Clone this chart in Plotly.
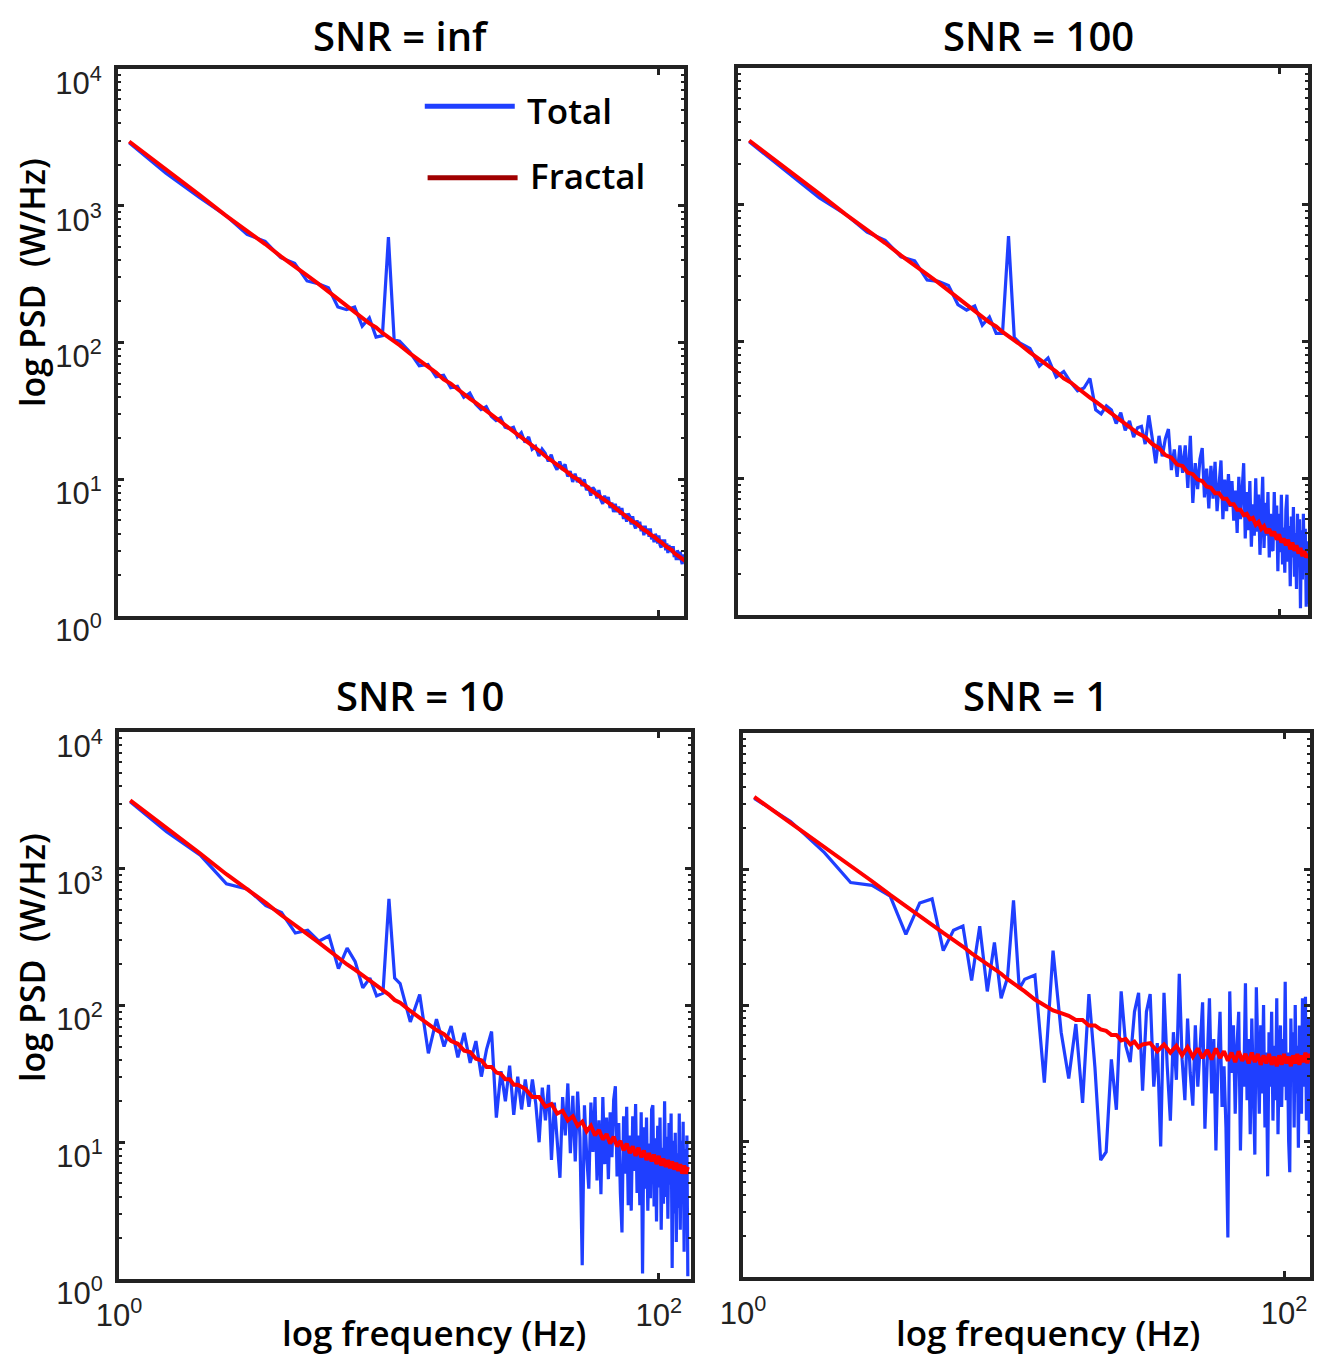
import plotly.graph_objects as go

# frequency grid (Hz) of the measured spectra
FREQ = [1.1, 1.5, 2, 2.5, 3, 3.5, 4, 4.5, 5, 5.5, 6, 6.5, 7, 7.5, 8, 8.5, 9, 9.5, 10, 10.5,
        11, 12, 13, 14, 15, 16, 17, 18, 19, 20, 21, 22, 23, 24, 25, 26, 27, 28, 29, 30,
        31, 32, 33, 34, 35, 36, 37, 38, 39, 40, 41, 42, 43, 44, 45, 46, 47, 48, 49, 50,
        51, 52, 53, 54, 55, 56, 57, 58, 59, 60, 61, 62, 63, 64, 65, 66, 67, 68, 69, 70,
        71, 72, 73, 74, 75, 76, 77, 78, 79, 80, 81, 82, 83, 84, 85, 86, 87, 88, 89, 90,
        91, 92, 93, 94, 95, 96, 97, 98, 99, 100, 101, 102, 103, 104, 105, 106, 107, 108, 109, 110,
        111, 112, 113, 114, 115, 116, 117, 118, 119, 120, 121, 122, 123, 124, 125, 126, 127, 128]

# frequency grid (Hz) of the fitted fractal component
FREQ_FIT = [1.1, 1.5, 2, 2.5, 3, 3.5, 4, 4.5, 5, 5.5, 6, 6.5, 7, 7.5, 8, 8.5, 9, 9.5, 10, 10.5,
            11, 12, 13, 14, 15, 16, 17, 18, 19, 20, 21, 22, 23, 24, 25, 26, 27, 28, 29, 30,
            32, 34, 36, 38, 40, 42, 44, 46, 48, 50, 52, 54, 56, 58, 60, 62, 64, 66, 68, 70,
            72, 74, 76, 78, 80, 82, 84, 86, 88, 90, 92, 94, 96, 98, 100, 102, 104, 106, 108, 110,
            112, 114, 116, 118, 120, 122, 124, 126, 128]

# log10 PSD values
TOTAL_INF = [3.46, 3.24, 3.06, 2.93, 2.79, 2.74, 2.62, 2.58, 2.45, 2.43, 2.40, 2.26, 2.24, 2.26, 2.12, 2.18, 2.04, 2.05, 2.77, 2.02,
             2.01, 1.93, 1.83, 1.84, 1.75, 1.76, 1.67, 1.68, 1.60, 1.63, 1.55, 1.51, 1.53, 1.46, 1.43, 1.45, 1.38, 1.37, 1.38, 1.31,
             1.34, 1.27, 1.31, 1.22, 1.24, 1.17, 1.22, 1.19, 1.13, 1.18, 1.11, 1.07, 1.13, 1.07, 1.11, 1.02, 1.06, 0.98, 1.04, 0.98,
             1.01, 0.95, 1.00, 0.92, 0.95, 0.88, 0.94, 0.92, 0.86, 0.92, 0.85, 0.82, 0.88, 0.83, 0.87, 0.79, 0.83, 0.76, 0.82, 0.76,
             0.80, 0.74, 0.79, 0.71, 0.75, 0.69, 0.75, 0.73, 0.67, 0.73, 0.67, 0.64, 0.70, 0.65, 0.69, 0.62, 0.66, 0.59, 0.66, 0.60,
             0.64, 0.58, 0.64, 0.56, 0.59, 0.54, 0.60, 0.58, 0.53, 0.59, 0.52, 0.50, 0.56, 0.51, 0.56, 0.48, 0.53, 0.46, 0.52, 0.47,
             0.51, 0.46, 0.51, 0.43, 0.47, 0.41, 0.48, 0.46, 0.41, 0.47, 0.41, 0.38, 0.45, 0.40, 0.45, 0.37, 0.42, 0.35]
FRACTAL_INF = [3.47, 3.27, 3.08, 2.93, 2.82, 2.72, 2.63, 2.56, 2.49, 2.43, 2.37, 2.32, 2.27, 2.22, 2.18, 2.14, 2.11, 2.07, 2.04, 2.01,
               1.98, 1.92, 1.87, 1.82, 1.78, 1.73, 1.70, 1.66, 1.62, 1.59, 1.56, 1.53, 1.50, 1.47, 1.45, 1.42, 1.40, 1.37, 1.35, 1.33,
               1.29, 1.25, 1.21, 1.17, 1.14, 1.11, 1.08, 1.05, 1.02, 1.00, 0.97, 0.95, 0.92, 0.90, 0.88, 0.86, 0.84, 0.82, 0.80, 0.78,
               0.76, 0.74, 0.73, 0.71, 0.69, 0.68, 0.66, 0.65, 0.63, 0.62, 0.60, 0.59, 0.58, 0.56, 0.55, 0.54, 0.52, 0.51, 0.50, 0.49,
               0.48, 0.46, 0.45, 0.44, 0.43, 0.42, 0.41, 0.40, 0.39]

TOTAL_100 = [3.46, 3.25, 3.05, 2.93, 2.80, 2.74, 2.62, 2.59, 2.45, 2.44, 2.41, 2.27, 2.23, 2.26, 2.12, 2.18, 2.06, 2.06, 2.77, 2.03,
             1.99, 1.95, 1.82, 1.88, 1.74, 1.78, 1.70, 1.64, 1.66, 1.73, 1.50, 1.47, 1.53, 1.50, 1.40, 1.48, 1.35, 1.42, 1.30, 1.37,
             1.38, 1.25, 1.46, 1.29, 1.11, 1.31, 1.16, 1.29, 1.36, 1.06, 1.21, 1.01, 1.24, 1.04, 1.24, 0.93, 1.31, 0.82, 1.11, 0.92,
             1.14, 1.22, 0.86, 1.07, 0.78, 1.09, 0.85, 1.12, 0.76, 0.95, 1.13, 0.70, 0.99, 0.76, 1.03, 0.79, 0.98, 0.69, 0.91, 0.60,
             1.01, 0.70, 0.89, 1.11, 0.56, 0.90, 0.62, 0.98, 0.50, 0.81, 0.58, 1.00, 0.61, 0.88, 0.44, 0.81, 1.01, 0.49, 0.82, 0.58,
             0.90, 0.42, 0.74, 0.48, 0.47, 0.90, 0.56, 0.80, 0.32, 0.74, 0.46, 0.88, 0.37, 0.64, 0.31, 0.77, 0.88, 0.39, 0.65, 0.21,
             0.72, 0.42, 0.79, 0.28, 0.60, 0.19, 0.74, 0.40, 0.70, 0.05, 0.62, 0.26, 0.74, 0.33, 0.63, 0.06, 0.54, 0.08]
FRACTAL_100 = [3.47, 3.27, 3.08, 2.93, 2.82, 2.72, 2.63, 2.56, 2.49, 2.43, 2.37, 2.32, 2.27, 2.22, 2.18, 2.14, 2.11, 2.07, 2.04, 2.01,
               1.98, 1.92, 1.87, 1.82, 1.78, 1.73, 1.70, 1.66, 1.62, 1.59, 1.56, 1.53, 1.50, 1.47, 1.45, 1.42, 1.40, 1.37, 1.35, 1.33,
               1.30, 1.25, 1.22, 1.17, 1.15, 1.10, 1.09, 1.04, 1.03, 0.99, 0.98, 0.94, 0.93, 0.89, 0.89, 0.85, 0.85, 0.81, 0.81, 0.77,
               0.77, 0.73, 0.74, 0.70, 0.71, 0.66, 0.68, 0.63, 0.65, 0.60, 0.63, 0.58, 0.61, 0.55, 0.59, 0.53, 0.56, 0.51, 0.55, 0.48,
               0.53, 0.47, 0.51, 0.45, 0.49, 0.43, 0.47, 0.42, 0.45]

TOTAL_10 = [3.49, 3.27, 3.10, 2.89, 2.85, 2.73, 2.68, 2.53, 2.55, 2.47, 2.51, 2.27, 2.42, 2.32, 2.13, 2.20, 2.07, 2.09, 2.78, 2.20,
            2.16, 1.88, 2.08, 1.65, 1.90, 1.70, 1.85, 1.62, 1.80, 1.58, 1.74, 1.48, 1.68, 1.81, 1.18, 1.52, 1.30, 1.56, 1.20, 1.48,
            1.24, 1.46, 1.26, 1.46, 1.28, 1.00, 1.40, 1.16, 1.42, 0.87, 1.29, 1.03, 0.74, 1.33, 1.05, 1.43, 0.92, 1.34, 0.86, 1.37,
            1.04, 0.10, 1.27, 0.91, 0.66, 1.29, 0.93, 1.33, 0.72, 1.16, 0.62, 1.33, 0.84, 1.18, 0.73, 1.22, 0.89, 1.31, 1.41, 0.75,
            1.14, 0.63, 0.34, 1.19, 0.77, 1.26, 0.54, 1.05, 0.50, 1.19, 0.79, 1.28, 0.63, 1.05, 0.54, 1.22, 0.04, 1.11, 0.66, 1.18,
            0.50, 0.99, 0.59, 1.24, 1.27, 0.53, 1.03, 0.42, 1.12, 0.67, 1.18, 0.36, 0.96, 0.55, 1.30, 0.60, 1.04, 0.44, 1.14, 0.69,
            1.21, 0.08, 1.01, 0.48, 1.07, 0.27, 0.92, 0.52, 1.21, 0.36, 1.01, 0.56, 1.15, 0.20, 0.95, 0.45, 1.05, 0.02]
FRACTAL_10 = [3.50, 3.30, 3.11, 2.96, 2.85, 2.75, 2.66, 2.59, 2.52, 2.46, 2.40, 2.35, 2.30, 2.26, 2.22, 2.18, 2.14, 2.11, 2.08, 2.04,
              2.02, 1.96, 1.91, 1.86, 1.82, 1.79, 1.74, 1.72, 1.67, 1.66, 1.61, 1.60, 1.55, 1.55, 1.51, 1.50, 1.46, 1.46, 1.42, 1.42,
              1.39, 1.33, 1.33, 1.26, 1.28, 1.21, 1.23, 1.16, 1.19, 1.12, 1.15, 1.08, 1.12, 1.05, 1.09, 1.02, 1.06, 0.99, 1.04, 0.97,
              1.01, 0.94, 0.99, 0.92, 0.97, 0.90, 0.96, 0.89, 0.94, 0.87, 0.92, 0.86, 0.91, 0.84, 0.90, 0.83, 0.88, 0.82, 0.87, 0.81,
              0.86, 0.80, 0.85, 0.79, 0.84, 0.77, 0.83, 0.77, 0.82]

TOTAL_1 = [3.52, 3.35, 3.12, 2.90, 2.88, 2.80, 2.52, 2.75, 2.78, 2.40, 2.55, 2.58, 2.18, 2.58, 2.10, 2.46, 2.05, 2.20, 2.77, 2.12,
           2.19, 2.22, 1.43, 2.40, 1.80, 1.46, 1.86, 1.28, 2.08, 1.54, 0.86, 0.92, 1.60, 1.23, 2.10, 1.70, 1.58, 1.95, 2.09, 1.37,
           1.95, 2.08, 1.40, 1.72, 0.96, 2.09, 1.55, 1.15, 1.80, 1.45, 2.23, 1.60, 1.30, 1.90, 1.50, 1.26, 1.85, 1.40, 1.70, 2.02,
           1.09, 1.65, 2.05, 1.35, 1.75, 0.93, 1.60, 1.95, 1.25, 1.55, 1.10, 0.29, 2.10, 1.50, 1.85, 1.20, 1.70, 1.95, 0.93, 1.60,
           1.40, 2.16, 1.30, 1.75, 1.05, 1.90, 1.45, 0.90, 2.13, 1.50, 1.20, 1.85, 1.35, 2.00, 1.10, 1.65, 0.74, 1.80, 1.40, 1.95,
           1.15, 1.70, 1.30, 2.05, 1.05, 1.60, 1.85, 1.25, 1.75, 1.40, 2.17, 1.30, 1.65, 1.00, 0.77, 1.90, 1.45, 1.80, 1.10, 2.00,
           1.35, 1.70, 0.95, 1.85, 1.50, 1.20, 2.05, 1.40, 1.75, 2.06, 1.15, 1.60, 1.90, 1.05, 1.70, 1.30, 2.10, 1.50]
FRACTAL_1 = [3.53, 3.34, 3.16, 3.02, 2.91, 2.81, 2.73, 2.66, 2.59, 2.53, 2.48, 2.43, 2.38, 2.34, 2.30, 2.26, 2.23, 2.19, 2.16, 2.13,
             2.10, 2.04, 2.00, 1.96, 1.94, 1.92, 1.89, 1.89, 1.85, 1.85, 1.82, 1.81, 1.78, 1.78, 1.74, 1.75, 1.71, 1.73, 1.69, 1.71,
             1.72, 1.66, 1.71, 1.65, 1.70, 1.63, 1.69, 1.62, 1.68, 1.61, 1.67, 1.60, 1.68, 1.61, 1.66, 1.59, 1.65, 1.58, 1.66, 1.59,
             1.64, 1.57, 1.65, 1.58, 1.64, 1.56, 1.63, 1.57, 1.64, 1.56, 1.62, 1.55, 1.63, 1.56, 1.64, 1.57, 1.62, 1.55, 1.63, 1.57,
             1.64, 1.56, 1.63, 1.58, 1.65, 1.57, 1.64, 1.59, 1.63]

TITLES = ['SNR = inf', 'SNR = 100', 'SNR = 10', 'SNR = 1']
Y_TICKS = [1, 10, 100, 1000, 10000]
Y_TICKTEXT = ['10<sup>0</sup>', '10<sup>1</sup>', '10<sup>2</sup>', '10<sup>3</sup>', '10<sup>4</sup>']
X_TICKS = [1, 100]
X_TICKTEXT = ['10<sup>0</sup>', '10<sup>2</sup>']

BLUE = '#1f3fff'
RED = '#ff0000'
DARK_RED = '#a00000'
INK = '#222222'
TEXT_FONT = 'Open Sans, Noto Sans, sans-serif'
TICK_FONT = dict(family='Liberation Sans, Arial, sans-serif', size=31, color=INK)

# the page body has an 8px margin; positions below are page pixels
PAGE_OFF = 8
W, H = 1323, 1349
# panel frames: left, right, top, bottom
FRAMES = [(118, 684, 69, 616), (738, 1308, 68, 615), (119, 691, 732, 1279), (743, 1310, 733, 1277)]
X_END = [2.093, 2.107, 2.119, 2.096]

SERIES = [(TOTAL_INF, FRACTAL_INF), (TOTAL_100, FRACTAL_100), (TOTAL_10, FRACTAL_10), (TOTAL_1, FRACTAL_1)]
for total, fractal in SERIES:
    assert len(total) == len(FREQ), len(total)
    assert len(fractal) == len(FREQ_FIT), len(fractal)

MINOR_Y = [m * 10 ** k for k in range(4) for m in range(2, 10)]


def px(x):
    return (x - PAGE_OFF) / W


def py(y):
    return 1 - (y - PAGE_OFF) / H


def axes_for(i):
    l, r, t, b = FRAMES[i]
    left_col = i in (0, 2)
    bottom_row = i in (2, 3)
    common = dict(
        type='log', showgrid=False, zeroline=False, automargin=False,
        showline=True, linecolor=INK, linewidth=4, mirror='allticks',
        ticks='inside', ticklen=6, tickwidth=3, tickcolor=INK,
        tickfont=TICK_FONT, ticklabelstandoff=6,
    )
    xaxis = dict(common, domain=[px(l), px(r)], range=[0, X_END[i]],
                 anchor='y%d' % (i + 1) if i else 'y',
                 tickmode='array', tickvals=X_TICKS, ticktext=X_TICKTEXT,
                 showticklabels=bottom_row)
    yaxis = dict(common, domain=[py(b), py(t)], range=[0, 4],
                 anchor='x%d' % (i + 1) if i else 'x',
                 tickmode='array', tickvals=Y_TICKS, ticktext=Y_TICKTEXT,
                 showticklabels=left_col, ticklabelshift=14,
                 minor=dict(ticks='inside', ticklen=3, tickwidth=2, tickcolor=INK,
                            tickmode='array', tickvals=MINOR_Y))
    return xaxis, yaxis


fig = go.Figure()
layout = dict(width=W, height=H, margin=dict(l=0, r=0, t=0, b=0, autoexpand=False),
              paper_bgcolor='white', plot_bgcolor='white', showlegend=False)

for i, (total, fractal) in enumerate(SERIES):
    xa, ya = axes_for(i)
    suffix = '' if i == 0 else str(i + 1)
    layout['xaxis' + suffix] = xa
    layout['yaxis' + suffix] = ya
    fig.add_trace(go.Scatter(x=FREQ, y=[10 ** v for v in total], mode='lines', name='Total',
                             line=dict(color=BLUE, width=3.2), xaxis='x' + suffix, yaxis='y' + suffix))
    fig.add_trace(go.Scatter(x=FREQ_FIT, y=[10 ** v for v in fractal], mode='lines', name='Fractal',
                             line=dict(color=RED, width=4), xaxis='x' + suffix, yaxis='y' + suffix))

annotations = []
title_pos = [(401, 36), (1038, 36), (420, 695), (1035, 695)]
for text, (tx, ty) in zip(TITLES, title_pos):
    annotations.append(dict(text=text, x=px(tx), y=py(ty), xref='paper', yref='paper',
                            xanchor='center', yanchor='middle', showarrow=False,
                            font=dict(family=TEXT_FONT, size=40, color='black', weight=600)))
for ty in (283, 958):
    annotations.append(dict(text='log PSD&nbsp; (W/Hz)', x=px(32), y=py(ty), xref='paper', yref='paper',
                            xanchor='center', yanchor='middle', textangle=-90, showarrow=False,
                            font=dict(family=TEXT_FONT, size=34, color='black', weight=600)))
for tx in (434, 1048):
    annotations.append(dict(text='log frequency (Hz)', x=px(tx), y=py(1332), xref='paper', yref='paper',
                            xanchor='center', yanchor='middle', showarrow=False,
                            font=dict(family=TEXT_FONT, size=35, color='black', weight=600)))

# legend drawn inside the first panel, MATLAB style
annotations.append(dict(text='Total', x=0.719, y=0.925, xref='x domain', yref='y domain',
                        xanchor='left', yanchor='middle', showarrow=False,
                        font=dict(family=TEXT_FONT, size=35, color='black', weight=600)))
annotations.append(dict(text='Fractal', x=0.724, y=0.806, xref='x domain', yref='y domain',
                        xanchor='left', yanchor='middle', showarrow=False,
                        font=dict(family=TEXT_FONT, size=35, color='black', weight=600)))
shapes = [
    dict(type='line', xref='x domain', yref='y domain', x0=0.542, x1=0.701, y0=0.932, y1=0.932,
         line=dict(color=BLUE, width=5)),
    dict(type='line', xref='x domain', yref='y domain', x0=0.547, x1=0.706, y0=0.801, y1=0.801,
         line=dict(color=DARK_RED, width=5)),
]

layout['annotations'] = annotations
layout['shapes'] = shapes
fig.update_layout(**layout)

fig.write_html("out.html")
